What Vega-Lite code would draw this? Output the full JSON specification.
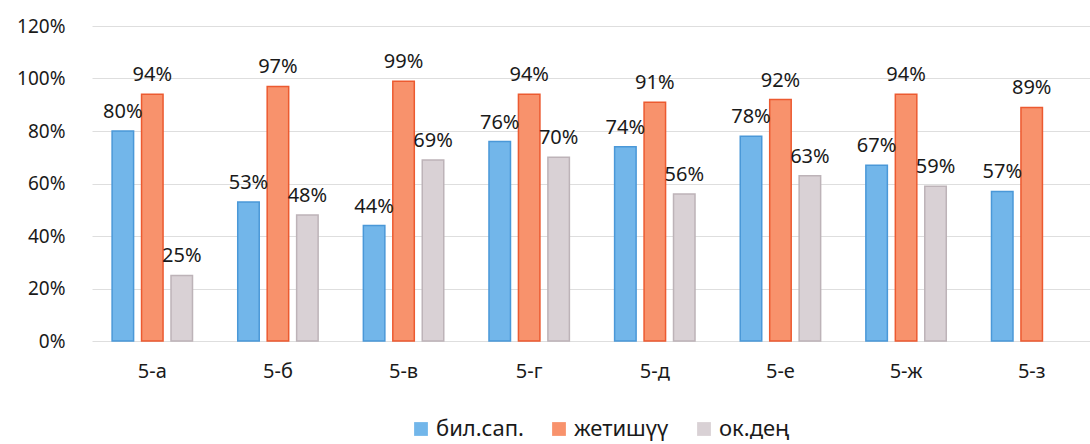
{
  "$schema": "https://vega.github.io/schema/vega-lite/v6.json",
  "autosize": "none",
  "padding": {"left": 92, "top": 26, "right": 0, "bottom": 103},
  "width": 1000,
  "height": 315,
  "background": "white",
  "config": {
    "font": "Noto Sans",
    "view": {"stroke": null}
  },
  "data": {
    "values": [
      {"class": "5-а", "series": "бил.сап.", "value": 0.80},
      {"class": "5-а", "series": "жетишүү", "value": 0.94},
      {"class": "5-а", "series": "ок.дең", "value": 0.25},
      {"class": "5-б", "series": "бил.сап.", "value": 0.53},
      {"class": "5-б", "series": "жетишүү", "value": 0.97},
      {"class": "5-б", "series": "ок.дең", "value": 0.48},
      {"class": "5-в", "series": "бил.сап.", "value": 0.44},
      {"class": "5-в", "series": "жетишүү", "value": 0.99},
      {"class": "5-в", "series": "ок.дең", "value": 0.69},
      {"class": "5-г", "series": "бил.сап.", "value": 0.76},
      {"class": "5-г", "series": "жетишүү", "value": 0.94},
      {"class": "5-г", "series": "ок.дең", "value": 0.70},
      {"class": "5-д", "series": "бил.сап.", "value": 0.74},
      {"class": "5-д", "series": "жетишүү", "value": 0.91},
      {"class": "5-д", "series": "ок.дең", "value": 0.56},
      {"class": "5-е", "series": "бил.сап.", "value": 0.78},
      {"class": "5-е", "series": "жетишүү", "value": 0.92},
      {"class": "5-е", "series": "ок.дең", "value": 0.63},
      {"class": "5-ж", "series": "бил.сап.", "value": 0.67},
      {"class": "5-ж", "series": "жетишүү", "value": 0.94},
      {"class": "5-ж", "series": "ок.дең", "value": 0.59},
      {"class": "5-з", "series": "бил.сап.", "value": 0.57},
      {"class": "5-з", "series": "жетишүү", "value": 0.89}
    ]
  },
  "encoding": {
    "x": {
      "field": "class", "type": "nominal", "sort": null,
      "scale": {"paddingInner": 0.36, "paddingOuter": 0.16},
      "axis": {"title": null, "labelAngle": 0, "domain": false, "ticks": false, "labelFontSize": 20, "labelColor": "#1a1a1a", "labelPadding": 20}
    },
    "xOffset": {
      "field": "series", "type": "nominal", "sort": ["бил.сап.", "жетишүү", "ок.дең"],
      "scale": {"paddingInner": 0.27, "paddingOuter": 0}
    },
    "y": {
      "field": "value", "type": "quantitative",
      "scale": {"domain": [0, 1.2]},
      "axis": {"title": null, "format": ".0%", "values": [0, 0.2, 0.4, 0.6, 0.8, 1.0, 1.2], "domain": false, "ticks": false, "labelFontSize": 19, "labelColor": "#1a1a1a", "labelPadding": 27, "gridColor": "#dedede", "gridWidth": 1}
    }
  },
  "layer": [
    {
      "mark": {"type": "bar", "strokeWidth": 1.5},
      "encoding": {
        "color": {
          "field": "series", "type": "nominal", "sort": ["бил.сап.", "жетишүү", "ок.дең"],
          "scale": {"domain": ["бил.сап.", "жетишүү", "ок.дең"], "range": ["#72b6ea", "#f8926c", "#d9d1d5"]},
          "legend": {"title": null, "orient": "none", "direction": "horizontal", "legendX": 318, "legendY": 392, "symbolType": "square", "symbolSize": 190, "labelFontSize": 22, "labelColor": "#1a1a1a", "columnPadding": 24, "symbolStrokeWidth": 0}
        },
        "stroke": {
          "field": "series", "type": "nominal",
          "scale": {"domain": ["бил.сап.", "жетишүү", "ок.дең"], "range": ["#4a98d8", "#ec5a30", "#bdb3b8"]},
          "legend": null
        }
      }
    },
    {
      "mark": {"type": "text", "baseline": "bottom", "dy": -9, "fontSize": 20, "color": "#1a1a1a"},
      "encoding": {
        "text": {"field": "value", "type": "quantitative", "format": ".0%"}
      }
    }
  ]
}
